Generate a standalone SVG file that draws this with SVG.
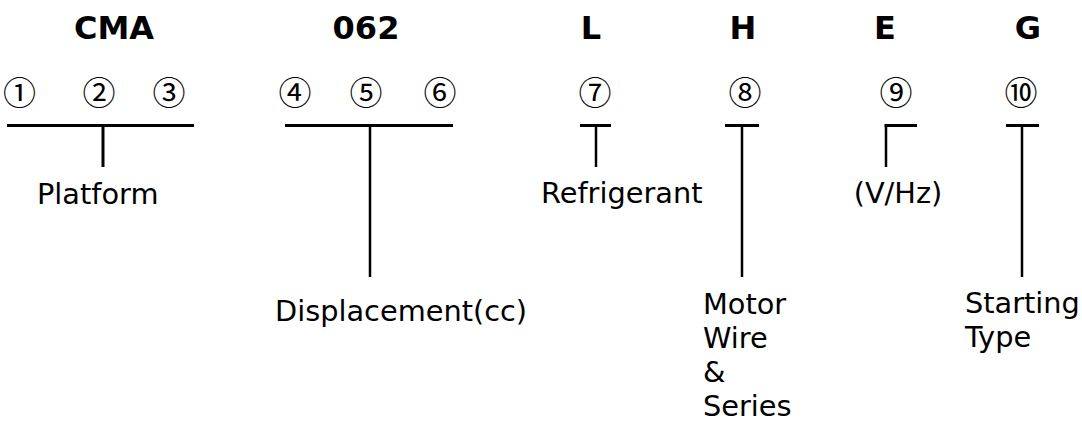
<svg xmlns="http://www.w3.org/2000/svg" width="1082" height="421" viewBox="0 0 1082 421">
<style>
.code{font-family:"DejaVu Sans","Verdana",sans-serif;font-weight:bold;font-size:32px;fill:#000;text-anchor:middle}
.num{font-family:"Noto Sans CJK JP","Noto Sans CJK SC",sans-serif;font-size:33px;fill:#000;text-anchor:middle}
.lbl{font-family:"DejaVu Sans","Verdana",sans-serif;font-size:28.8px;fill:#000}
.bar{stroke:#000;stroke-width:3;fill:none}
.stem{stroke:#000;stroke-width:2.5;fill:none}
</style>
<rect width="1082" height="421" fill="#fff"/>
<g id="codes">
<text class="code" x="114" y="39">CMA</text>
<text class="code" x="366" y="39">062</text>
<text class="code" x="591" y="39">L</text>
<text class="code" x="743" y="39">H</text>
<text class="code" x="885" y="39">E</text>
<text class="code" x="1028" y="39">G</text>
</g>
<g id="numbers">
<text class="num" x="19.5" y="104.5">①</text>
<text class="num" x="99" y="104.5">②</text>
<text class="num" x="169" y="104.5">③</text>
<text class="num" x="295" y="104.5">④</text>
<text class="num" x="366" y="104.5">⑤</text>
<text class="num" x="440" y="104.5">⑥</text>
<text class="num" x="595" y="104.5">⑦</text>
<text class="num" x="745" y="104.5">⑧</text>
<text class="num" x="896" y="104.5">⑨</text>
<text class="num" x="1021" y="104.5">⑩</text>
</g>
<g id="connectors">
<path class="bar" d="M7 125.5H194"/>
<path class="stem" d="M103 125.5V167" style="stroke-width:3"/>
<path class="bar" d="M285 125.5H453"/>
<path class="stem" d="M370 125.5V277"/>
<path class="bar" d="M580 125.5H611"/>
<path class="stem" d="M596 125.5V167"/>
<path class="bar" d="M725 125.5H759"/>
<path class="stem" d="M742 125.5V277"/>
<path class="bar" d="M884.5 125.5H917"/>
<path class="stem" d="M886 125.5V167"/>
<path class="bar" d="M1006 125.5H1039"/>
<path class="stem" d="M1022 125.5V277"/>
</g>
<g id="platform"><text class="lbl" x="37" y="204">Platform</text></g>
<g id="displacement"><text class="lbl" x="275" y="321">Displacement(cc)</text></g>
<g id="refrigerant"><text class="lbl" x="541" y="203">Refrigerant</text></g>
<g id="motor"><text class="lbl" x="703" y="314"><tspan x="703" y="314">Motor</tspan><tspan x="703" y="348">Wire</tspan><tspan x="703" y="382">&amp;</tspan><tspan x="703" y="416">Series</tspan></text></g>
<g id="voltage"><text class="lbl" x="898" y="203" text-anchor="middle">(V/Hz)</text></g>
<g id="starting"><text class="lbl" x="965" y="313"><tspan x="965" y="313">Starting</tspan><tspan x="965" y="347">Type</tspan></text></g>
</svg>
